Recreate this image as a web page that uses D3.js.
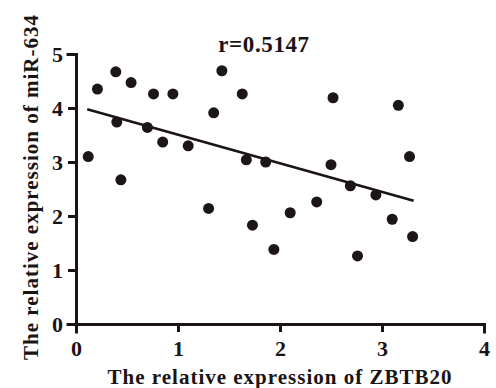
<!DOCTYPE html>
<html>
<head>
<meta charset="utf-8">
<script src="https://cdn.jsdelivr.net/npm/d3@7"></script>
<style>
  body { margin: 0; background: #fff; }
  text { font-family: "Liberation Serif", "Times New Roman", serif; font-weight: bold; fill: #1a1414; }
  .axis path, .axis line { stroke: #1a1414; stroke-width: 3; }
</style>
</head>
<body>
<div id="chart"></div>
<script>
// ZBTB20 expression (x) vs miR-634 expression (y)
const zbtb20 = [0.12, 0.21, 0.39, 0.40, 0.44, 0.54, 0.70, 0.76, 0.85, 0.95,
  1.10, 1.30, 1.35, 1.43, 1.63, 1.67, 1.73, 1.86, 1.94, 2.10,
  2.36, 2.50, 2.52, 2.69, 2.76, 2.94, 3.10, 3.16, 3.27, 3.30];
const mir634 = [3.10, 4.35, 4.67, 3.74, 2.67, 4.47, 3.64, 4.26, 3.37, 4.26,
  3.30, 2.14, 3.91, 4.69, 4.26, 3.04, 1.83, 3.00, 1.38, 2.06,
  2.26, 2.95, 4.19, 2.56, 1.26, 2.39, 1.94, 4.05, 3.10, 1.62];

// fitted line as drawn in the figure
const fitX = [0.11, 3.31];
const fitSlope = -0.53;
const fitIntercept = 4.035;

const xTicks = [0, 1, 2, 3, 4];
const yTicks = [0, 1, 2, 3, 4, 5];
const rLabel = 'r=0.5147';
const xTitle = 'The relative expression of ZBTB20';
const yTitle = 'The relative expression of miR-634';

const W = 496, H = 388;
const margin = {top: 54, right: 12, bottom: 64, left: 76};

const svg = d3.select('#chart').append('svg')
  .attr('width', W)
  .attr('height', H);

const x = d3.scaleLinear().domain([0, 4]).range([margin.left, W - margin.right]);
const y = d3.scaleLinear().domain([0, 5]).range([H - margin.bottom, margin.top]);

// axes
const xAxis = svg.append('g')
  .attr('class', 'axis')
  .attr('transform', `translate(0, ${y(0)})`)
  .call(d3.axisBottom(x).tickValues(xTicks).tickFormat(d3.format('d')).tickSizeOuter(0).tickSize(8).tickPadding(8));
xAxis.selectAll('text').style('font-size', '22px');

const yAxis = svg.append('g')
  .attr('class', 'axis')
  .attr('transform', `translate(${x(0)}, 0)`)
  .call(d3.axisLeft(y).tickValues(yTicks).tickFormat(d3.format('d')).tickSizeOuter(0).tickSize(8).tickPadding(5));
yAxis.selectAll('text').style('font-size', '22px');

svg.selectAll('.axis .domain').attr('stroke-linecap', 'square');

// regression line
const line = d3.line()
  .x(d => x(d))
  .y(d => y(fitIntercept + fitSlope * d));

svg.append('path')
  .datum(fitX)
  .attr('d', line)
  .attr('fill', 'none')
  .attr('stroke', '#1a1414')
  .attr('stroke-width', 2.6);

// points
svg.append('g')
  .selectAll('circle')
  .data(zbtb20.map((v, i) => [v, mir634[i]]))
  .join('circle')
  .attr('cx', d => x(d[0]))
  .attr('cy', d => y(d[1]))
  .attr('r', 5.5)
  .attr('fill', '#1c1616');

// labels
svg.append('text')
  .attr('x', 264)
  .attr('y', 52)
  .attr('text-anchor', 'middle')
  .style('font-size', '23px')
  .style('letter-spacing', '0.6px')
  .text(rLabel);

svg.append('text')
  .attr('x', 280)
  .attr('y', 384)
  .attr('text-anchor', 'middle')
  .style('font-size', '21px')
  .style('letter-spacing', '1px')
  .text(xTitle);

svg.append('text')
  .attr('transform', `translate(38, 187) rotate(-90)`)
  .attr('text-anchor', 'middle')
  .style('font-size', '21px')
  .style('letter-spacing', '1px')
  .text(yTitle);
</script>
</body>
</html>
